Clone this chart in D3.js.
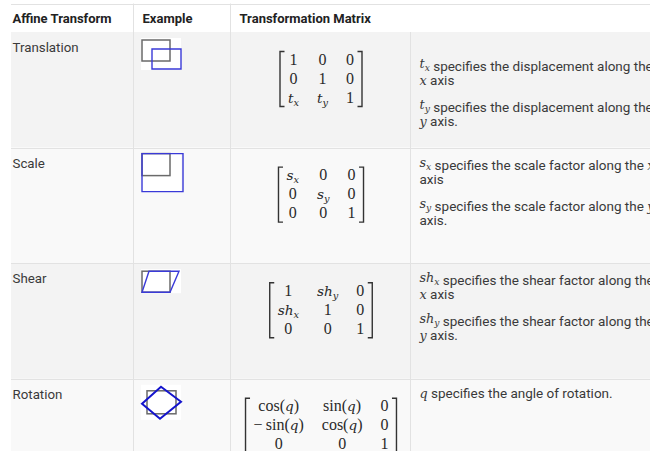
<!DOCTYPE html>
<html>
<head>
<meta charset="utf-8">
<script src="https://cdn.jsdelivr.net/npm/d3@7"></script>
<style>
  body { margin: 0; background: #fff; }
</style>
</head>
<body>
<svg id="chart" width="650" height="451"></svg>
<script>
// table content
var headers = ["Affine Transform", "Example", "Transformation Matrix"];
var transforms = ["Translation", "Scale", "Shear", "Rotation"];

var matrices = [
    [["1", "0", "0"], ["0", "1", "0"], ["t_x", "t_y", "1"]],
    [["s_x", "0", "0"], ["0", "s_y", "0"], ["0", "0", "1"]],
    [["1", "sh_y", "0"], ["sh_x", "1", "0"], ["0", "0", "1"]],
    [["\\cos(q)", "\\sin(q)", "0"], ["-\\sin(q)", "\\cos(q)", "0"], ["0", "0", "1"]]
];

// paragraphs, each one a list of wrapped lines ($..$ is math)
var descriptions = [
    [["", "$t_x$ specifies the displacement along the", "$x$ axis"], ["$t_y$ specifies the displacement along the", "$y$ axis."]],
    [["$s_x$ specifies the scale factor along the $x$", "axis"], ["$s_y$ specifies the scale factor along the $y$", "axis."]],
    [["$sh_x$ specifies the shear factor along the", "$x$ axis"], ["$sh_y$ specifies the shear factor along the", "$y$ axis."]],
    [["$q$ specifies the angle of rotation."]]
];

// example sketches: original box (grey) and transformed shape (blue), icon units
var originalBoxes = [[1, 2, 29, 23], [1, 0, 29, 22], [1, 2, 29, 23], [6, 6, 35, 29]];
var transformedShapes = [
    [[11, 11], [40, 11], [40, 31], [11, 31]],
    [[1, 0], [42, 0], [42, 38], [1, 38]],
    [[8, 2], [38, 2], [29, 23], [1, 23]],
    [[20, 2], [40, 17], [19, 34], [1, 19]]
];

var W = 650, H = 451;
var colX = [11, 133, 230, 410];
var headerTop = 3.5, headerBottom = 32, rowH = 115.6;
var sans = "Roboto, 'Noto Sans', sans-serif";
var serif = "'Liberation Serif', 'DejaVu Serif', serif";
var italicSerif = "'DejaVu Serif', 'Liberation Serif', serif";
var lineColor = "#e2e2e2";
var textColor = "#3a3a3a";

var svg = d3.select("#chart");

var y = d3.scaleBand()
    .domain(transforms)
    .range([headerBottom, headerBottom + rowH * transforms.length]);

svg.append("rect").attr("width", W).attr("height", H).attr("fill", "#fff");

// row backgrounds
svg.selectAll("rect.row")
    .data(transforms).enter()
    .append("rect")
    .attr("class", "row")
    .attr("x", colX[0])
    .attr("y", function (d) { return y(d); })
    .attr("width", W - colX[0])
    .attr("height", y.bandwidth())
    .attr("fill", function (d, i) { return i % 2 ? "#f9f9f9" : "#f3f3f3"; });

// grid lines
var hLines = [headerTop].concat(transforms.map(function (d) { return y(d) + y.bandwidth(); }));
svg.selectAll("line.h")
    .data(hLines).enter()
    .append("line")
    .attr("x1", colX[0]).attr("x2", W)
    .attr("y1", function (d) { return Math.round(d) + 0.5; })
    .attr("y2", function (d) { return Math.round(d) + 0.5; })
    .style("stroke", lineColor);

svg.selectAll("line.v")
    .data(colX.slice(1)).enter()
    .append("line")
    .attr("x1", function (d) { return d + 0.5; })
    .attr("x2", function (d) { return d + 0.5; })
    .attr("y1", function (d, i) { return i < 2 ? headerTop : headerBottom; })
    .attr("y2", H)
    .style("stroke", lineColor);

function pad(i) { return i === 0 ? 1.5 : 9.5; }

// header
svg.selectAll("text.header")
    .data(headers).enter()
    .append("text")
    .attr("x", function (d, i) { return colX[i] + pad(i); })
    .attr("y", 22.5)
    .style("font-family", sans)
    .style("font-size", "13px")
    .style("font-weight", "bold")
    .style("fill", "#222")
    .text(function (d) { return d; });

// first column labels
svg.selectAll("text.label")
    .data(transforms).enter()
    .append("text")
    .attr("x", colX[0] + pad(0))
    .attr("y", function (d) { return y(d) + 20; })
    .style("font-family", sans)
    .style("font-size", "13.3px")
    .style("fill", textColor)
    .text(function (d) { return d; });

// math writer: letters italic, functions and digits upright, _x subscripts
function addMath(text, src, size) {
    var re = /\\(cos|sin)|(-)|([a-z]+)(?:_([a-z]))?|([^a-z\\-]+)/g;
    var m, shift = 0;
    function span(str, italic, s, target) {
        text.append("tspan")
            .attr("dy", target - shift)
            .style("font-family", italic ? italicSerif : serif)
            .style("font-style", italic ? "italic" : "normal")
            .style("font-size", (italic ? s * 0.85 : s) + "px")
            .text(str);
        shift = target;
    }
    while ((m = re.exec(src)) !== null) {
        if (m[1]) span(m[1], false, size, 0);
        else if (m[2]) span("\u2212\u2009", false, size, 0);
        else if (m[3]) {
            span(m[3], true, size, 0);
            if (m[4]) span(m[4], true, size * 0.72, size * 0.2);
        }
        else span(m[5], false, size, 0);
    }
    if (shift) text.append("tspan").attr("dy", -shift).text("");
}

// example sketches
var line = d3.line();
transforms.forEach(function (t, i) {
    var box = originalBoxes[i];
    var shape = transformedShapes[i];
    var sx = d3.scaleLinear().domain([0, 40]).range([colX[1] + 8, colX[1] + 48]);
    var sy = d3.scaleLinear().domain([0, 40]).range([y(t) + 6, y(t) + 46]);
    var maxY = d3.max(shape.concat([[box[0], box[3]]]), function (p) { return p[1]; });

    var g = svg.append("g");
    g.append("rect")
        .attr("x", sx(0)).attr("y", sy(0))
        .attr("width", sx(40) - sx(0))
        .attr("height", sy(maxY + 1) - sy(0))
        .attr("fill", "#fff");
    g.append("rect")
        .attr("x", sx(box[0])).attr("y", sy(box[1]))
        .attr("width", sx(box[2]) - sx(box[0]))
        .attr("height", sy(box[3]) - sy(box[1]))
        .style("fill", "none")
        .style("stroke", "#6a6a6a")
        .style("stroke-width", 1.5);
    g.append("path")
        .attr("d", line(shape.map(function (p) { return [sx(p[0]), sy(p[1])]; })) + "Z")
        .style("fill", "none")
        .style("stroke", i === 3 ? "#1414cc" : "#3a3ad8")
        .style("stroke-width", i === 3 ? 2 : 1.4);
});

// matrices
var mathSize = 16, colGap = 18, bracketPad = 8, rowStep = 19;
var matrixCenter = (colX[2] + colX[3]) / 2 + 1;
matrices.forEach(function (mat, i) {
    var top = y(transforms[i]);
    var g = svg.append("g");
    var cells = [];
    mat.forEach(function (row, r) {
        row.forEach(function (entry, c) {
            var t = g.append("text")
                .attr("y", top + 32.5 + r * rowStep)
                .attr("text-anchor", "middle")
                .style("fill", "#2a2a2a");
            addMath(t, entry, mathSize);
            cells.push({ node: t, c: c, w: t.node().getComputedTextLength() });
        });
    });
    var widths = [0, 1, 2].map(function (c) {
        return d3.max(cells.filter(function (d) { return d.c === c; }), function (d) { return d.w; });
    });
    var total = d3.sum(widths) + 2 * colGap + 2 * bracketPad;
    var left = matrixCenter - total / 2;
    var centers = [], x = left + bracketPad;
    widths.forEach(function (w) { centers.push(x + w / 2); x += w + colGap; });
    cells.forEach(function (d) { d.node.attr("x", centers[d.c]); });

    var bTop = top + 19.5, bBot = top + 32 + 2 * rowStep + 4.5;
    var right = left + total;
    g.append("path")
        .attr("d", "M" + (left + 4.5) + "," + bTop + "H" + left + "V" + bBot + "H" + (left + 4.5))
        .style("fill", "none").style("stroke", "#333").style("stroke-width", 1.4);
    g.append("path")
        .attr("d", "M" + (right - 4.5) + "," + bTop + "H" + right + "V" + bBot + "H" + (right - 4.5))
        .style("fill", "none").style("stroke", "#333").style("stroke-width", 1.4);
});

// descriptions
var lineStep = 17, paraGap = 7;
descriptions.forEach(function (paras, i) {
    var base = y(transforms[i]) + 19;
    paras.forEach(function (lines) {
        lines.forEach(function (str) {
            var t = svg.append("text")
                .attr("x", colX[3] + pad(3))
                .attr("y", base)
                .style("fill", textColor);
            str.split("$").forEach(function (part, k) {
                if (k % 2) addMath(t, part, 15);
                else if (part) t.append("tspan")
                    .style("font-family", sans)
                    .style("font-size", "13.5px")
                    .text(part);
            });
            base += lineStep;
        });
        base += paraGap;
    });
});
</script>
</body>
</html>
